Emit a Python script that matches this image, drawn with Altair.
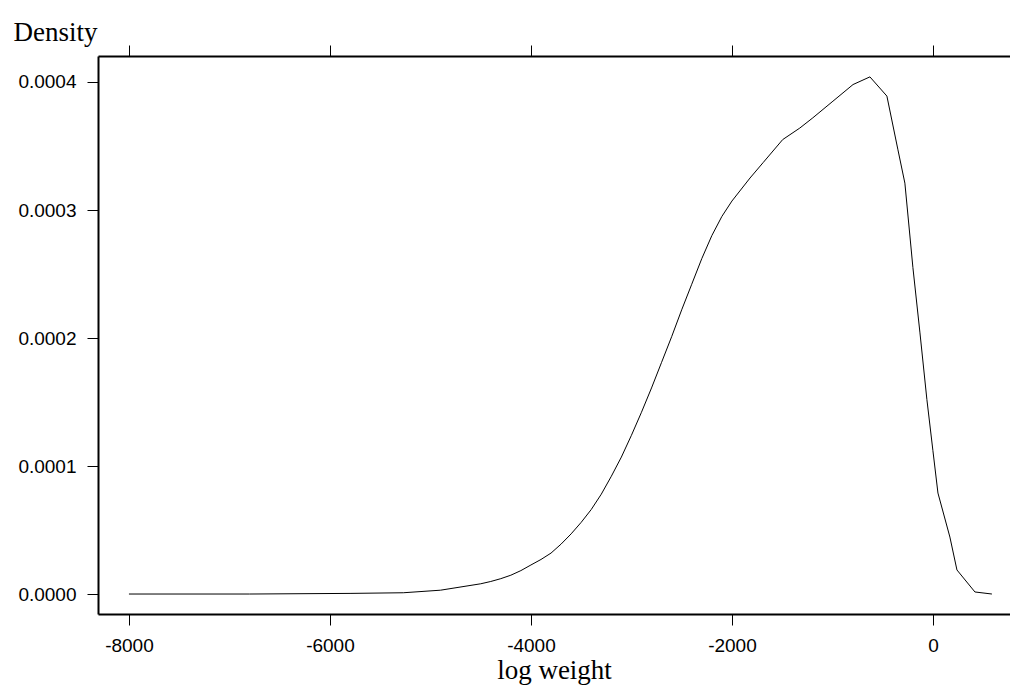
import altair as alt
import pandas as pd

log_weight = [-8000, -6800, -5800, -5270, -4900, -4500, -4400, -4300, -4200, -4100,
              -4000, -3900, -3800, -3700, -3600, -3500, -3400, -3300, -3200, -3100,
              -3000, -2900, -2800, -2700, -2600, -2500, -2400, -2300, -2200, -2100,
              -2000, -1820, -1690, -1495, -1325, -1195, -995, -795, -627, -458,
              -348, -279, -199, -129, -60, 0, 50, 169, 239, 418, 587]
density = [0.0, 0.0, 0.0000005, 0.000001, 0.000003, 0.000008, 0.0000098, 0.000012, 0.0000147, 0.0000183,
           0.0000227, 0.000027, 0.000032, 0.000039, 0.000047, 0.000056, 0.000066, 0.000078, 0.000092, 0.000107,
           0.000124, 0.000142, 0.000161, 0.000181, 0.000201, 0.000222, 0.000242, 0.000262, 0.000280, 0.000295,
           0.000307, 0.000325, 0.000337, 0.000355, 0.000364, 0.000372, 0.000385, 0.000398, 0.000404, 0.000389,
           0.000347, 0.000321, 0.000255, 0.000204, 0.000152, 0.000112, 0.0000789, 0.0000445, 0.0000188, 0.0000016, 0.0]

x_ticks = [-8000, -6000, -4000, -2000, 0]
y_ticks = [0.0, 0.0001, 0.0002, 0.0003, 0.0004]

df = pd.DataFrame({"x": log_weight, "y": density})

x_dom = [-8308, 767]
y_dom = [-0.0000156, 0.00042031]

base = alt.Chart(df)

line = base.mark_line(color="black", strokeWidth=1).encode(
    x=alt.X("x:Q", scale=alt.Scale(domain=x_dom, nice=False, zero=False),
            axis=alt.Axis(values=x_ticks, labelExpr="'' + datum.value", title="log weight",
                          orient="bottom")),
    y=alt.Y("y:Q", scale=alt.Scale(domain=y_dom, nice=False, zero=False),
            axis=alt.Axis(values=y_ticks, format=".4f", title="Density",
                          titleAngle=0, titleX=-85, titleY=-16,
                          titleAlign="left", titleBaseline="alphabetic")),
)

top_axis = base.mark_line(opacity=0).encode(
    x=alt.X("x:Q", scale=alt.Scale(domain=x_dom, nice=False, zero=False),
            axis=alt.Axis(values=x_ticks, labels=False, title=None, orient="top")),
)

chart = alt.layer(line, top_axis).properties(
    width=912, height=558,
    autosize=alt.AutoSizeParams(type="none"),
    padding={"left": 90, "top": 48, "right": 0, "bottom": 71},
).configure_view(stroke=None).configure_axis(
    grid=False,
    domainColor="black", domainWidth=2,
    tickColor="black", tickWidth=1, tickSize=11,
    labelFont="Liberation Sans", labelFontSize=19, labelColor="#000000",
    labelPadding=11,
    titleFont="Liberation Serif", titleFontSize=27, titleFontWeight="normal",
    titleColor="black", titlePadding=2,
)

chart.save("out.html", embed_options={"renderer": "svg", "actions": False})
